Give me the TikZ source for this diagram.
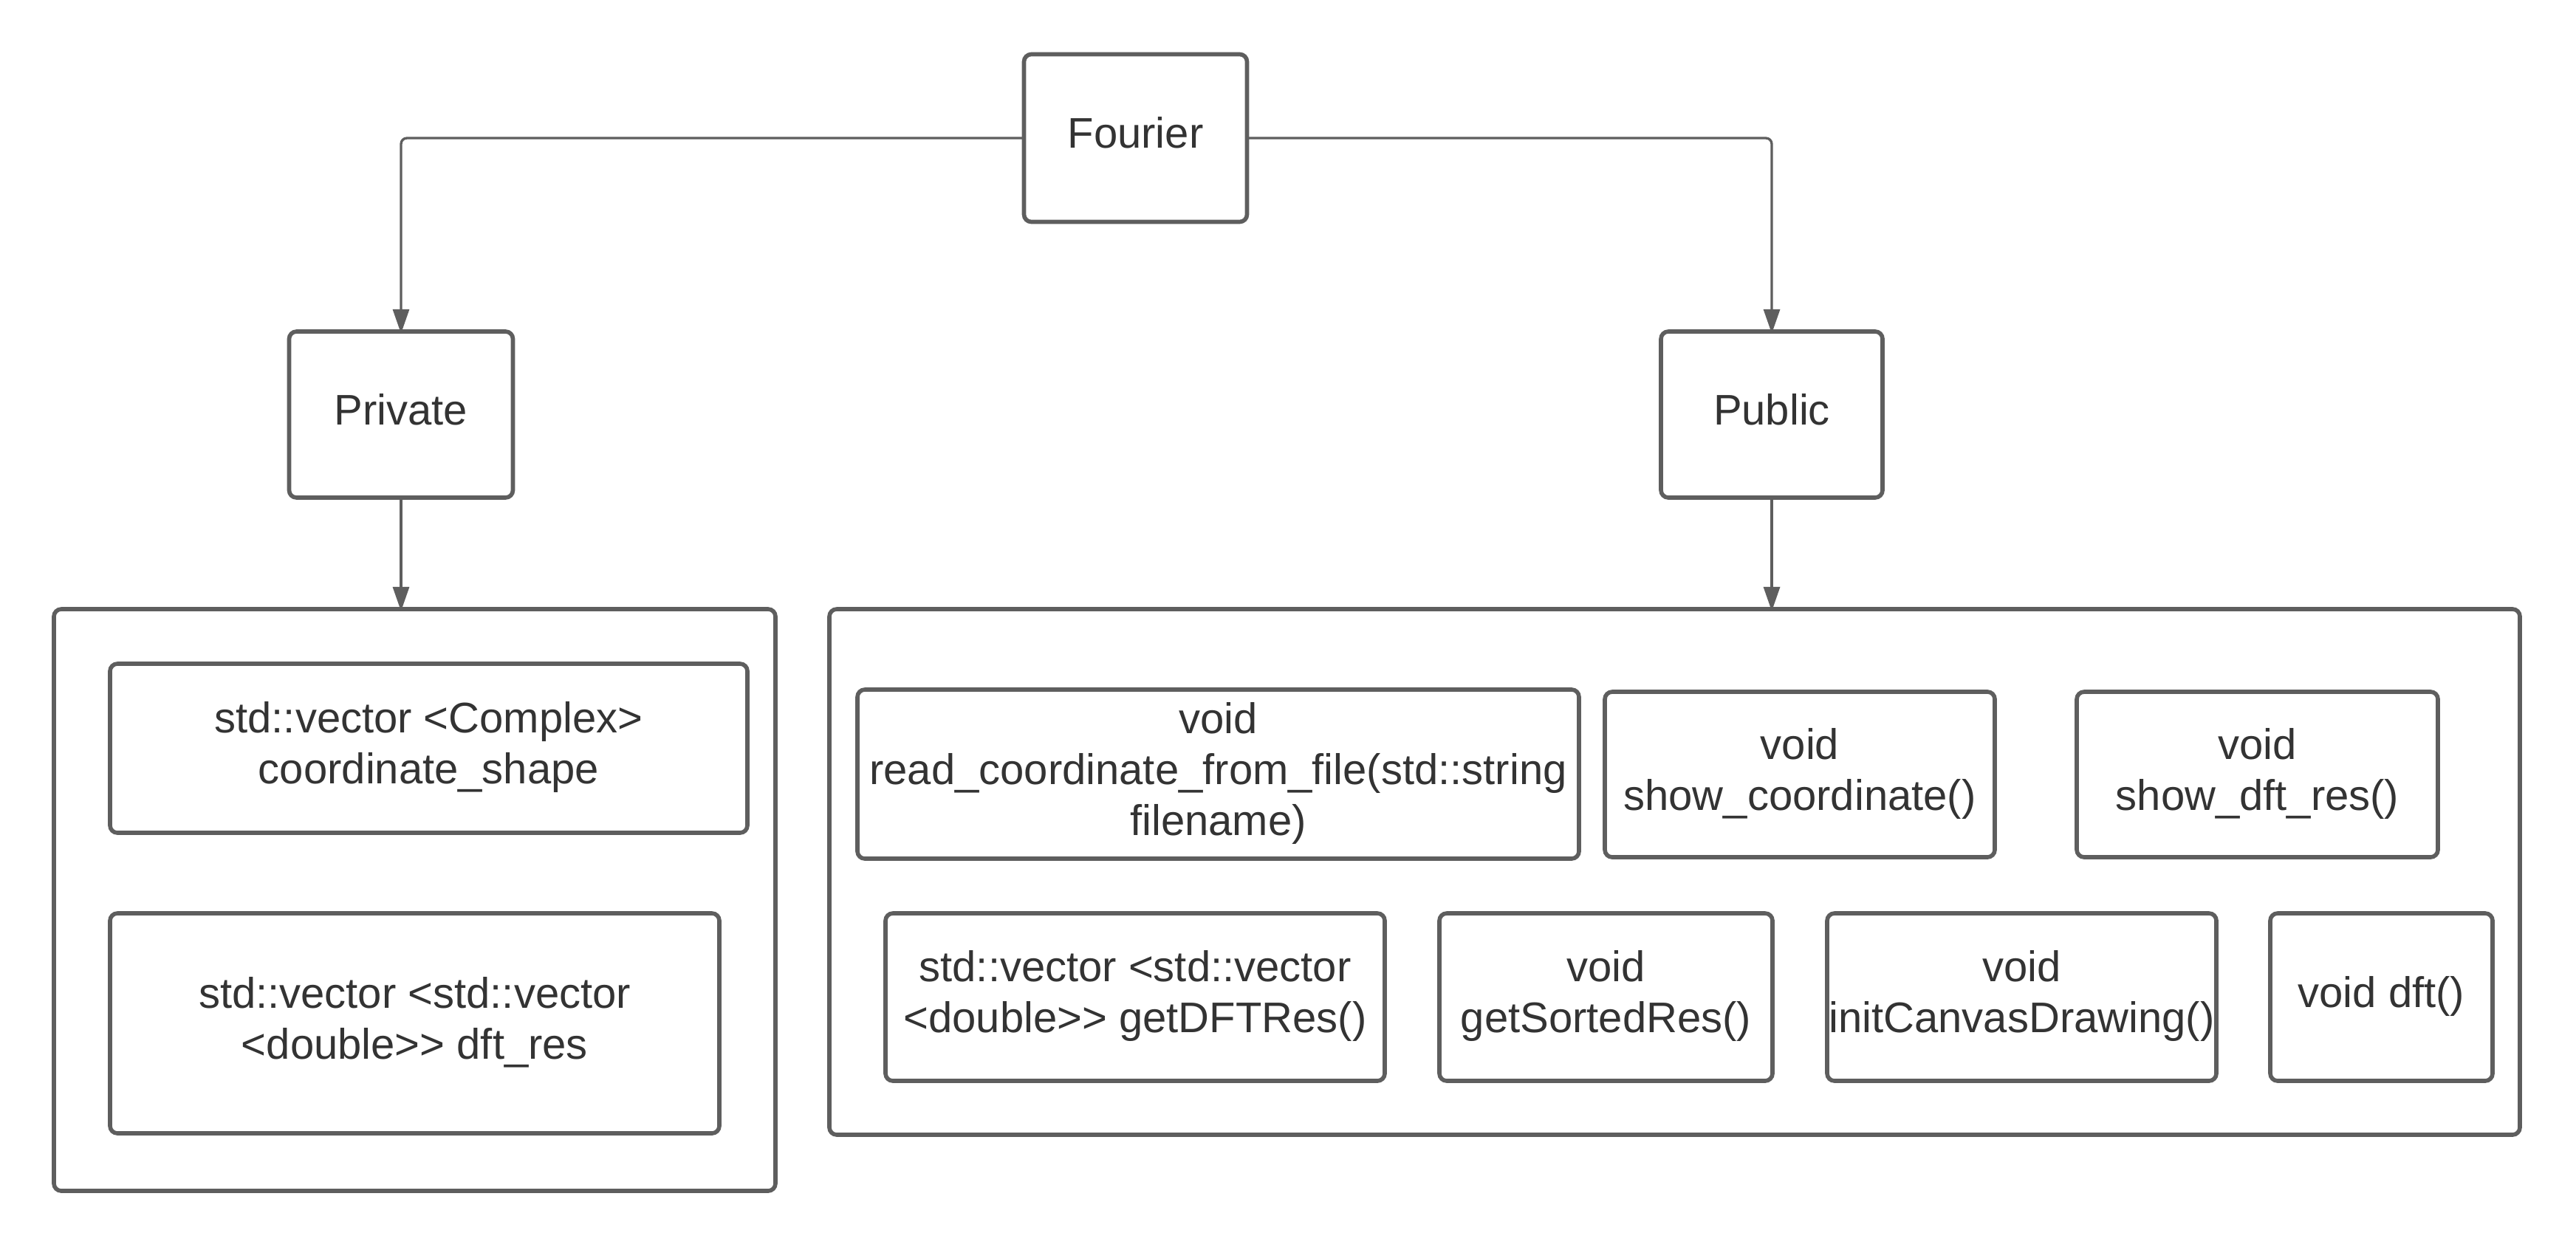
\documentclass[tikz,border=0pt]{standalone}
\usepackage{fontspec}
\setmainfont{Liberation Sans}
\usetikzlibrary{arrows.meta,calc}
\definecolor{strokec}{HTML}{5E5E5E}
\definecolor{textc}{HTML}{333333}
\newcommand{\ml}[1]{\begin{tabular}{@{}c@{}}#1\end{tabular}}
\tikzset{
  box/.style={draw=strokec, line width=1.6pt, rounded corners=0.1cm,
    text=textc, font=\fontsize{16.5}{19.6}\selectfont, inner sep=0pt, outer sep=0pt},
  conn/.style={draw=strokec, line width=0.95pt, rounded corners=0.08cm, shorten >=-0.8pt,
    -{Triangle[length=0.33cm,width=0.22cm]}}
}
\begin{document}
\begin{tikzpicture}
\useasboundingbox (0,0) rectangle (34.88,-16.88);
\fill[white] (0,0) rectangle (34.88,-16.88);
% top level
\node[box, minimum width=3.02cm, minimum height=2.27cm] (F) at (15.375,-1.87) {\ml{Fourier}};
\node[box, minimum width=3.03cm, minimum height=2.25cm] (Pr) at (5.43,-5.615) {\ml{Private}};
\node[box, minimum width=3.00cm, minimum height=2.25cm] (Pu) at (23.99,-5.615) {\ml{Public}};
% containers
\node[box, minimum width=9.77cm, minimum height=7.88cm] (LB) at (5.615,-12.19) {};
\node[box, minimum width=22.89cm, minimum height=7.12cm] (RB) at (22.675,-11.81) {};
% private members
\node[box, minimum width=8.63cm, minimum height=2.29cm] (cs) at (5.805,-10.135) {\ml{std::vector <Complex>\\coordinate\_shape}};
\node[box, minimum width=8.25cm, minimum height=2.98cm] (dr) at (5.615,-13.86) {\ml{std::vector <std::vector\\<double>\kern0pt> dft\_res}};
% public members
\node[box, minimum width=9.77cm, minimum height=2.29cm] (rc) at (16.495,-10.485) {\ml{void\\read\_coordinate\_from\_file(std::string\\filename)}};
\node[box, minimum width=5.28cm, minimum height=2.24cm] (sc) at (24.37,-10.49) {\ml{void\\show\_coordinate()}};
\node[box, minimum width=4.89cm, minimum height=2.24cm] (sd) at (30.565,-10.49) {\ml{void\\show\_dft\_res()}};
\node[box, minimum width=6.76cm, minimum height=2.27cm] (gd) at (15.37,-13.505) {\ml{std::vector <std::vector\\<double>\kern0pt> getDFTRes()}};
\node[box, minimum width=4.51cm, minimum height=2.27cm] (gs) at (21.745,-13.505) {\ml{void\\getSortedRes()}};
\node[box, minimum width=5.27cm, minimum height=2.27cm] (ic) at (27.375,-13.505) {\ml{void\\initCanvasDrawing()}};
\node[box, minimum width=3.01cm, minimum height=2.27cm] (df) at (32.245,-13.505) {\ml{void dft()}};
% connectors
\draw[conn] (F.west) -| (Pr.north);
\draw[conn] (F.east) -| (Pu.north);
\draw[conn] (Pr.south) -- (Pr.south |- LB.north);
\draw[conn] (Pu.south) -- (Pu.south |- RB.north);
\end{tikzpicture}
\end{document}
